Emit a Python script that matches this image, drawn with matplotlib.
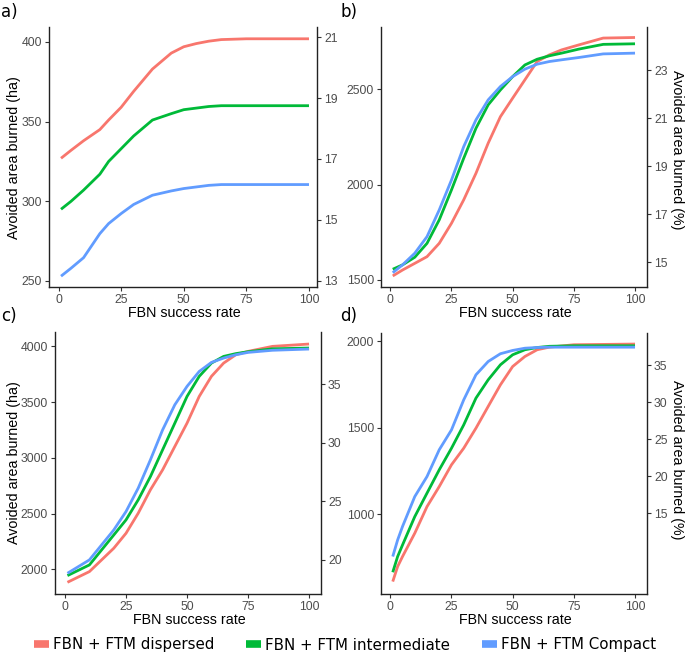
import matplotlib
matplotlib.use("Agg")
import matplotlib.pyplot as plt
from matplotlib.lines import Line2D

plt.rcParams['font.family'] = ['Liberation Sans', 'DejaVu Sans']

series_names = ["FBN + FTM dispersed", "FBN + FTM intermediate", "FBN + FTM Compact"]
colors = ["#F8766D", "#00BA38", "#619CFF"]

# panel a
xa = [1, 5, 10, 16.5, 20, 25, 30, 37.5, 45, 50, 55, 60, 65, 75, 100]
a_disp = [327, 332, 338, 345, 351, 359, 369, 383, 393, 397, 399, 400.5, 401.5, 402, 402]
a_inter = [295, 300, 307, 317, 325, 333, 341, 351, 355, 357.5, 358.5, 359.5, 360, 360, 360]
a_comp = [253, 258, 264.6, 279.7, 286, 292.3, 298, 303.8, 306.5, 308, 309, 310, 310.5, 310.5, 310.5]

# panel b
xb = [1, 5, 10, 15, 20, 25, 30, 35, 40, 45, 50, 55, 60, 65, 70, 77, 87, 100]
b_disp = [1521, 1552, 1587, 1622, 1692, 1797, 1920, 2059, 2217, 2356, 2453, 2549, 2645, 2680, 2706, 2732, 2768, 2771]
b_inter = [1556, 1579, 1619, 1692, 1815, 1972, 2138, 2295, 2418, 2496, 2566, 2627, 2657, 2675, 2689, 2710, 2735, 2738]
b_comp = [1538, 1579, 1640, 1727, 1867, 2024, 2199, 2339, 2444, 2514, 2566, 2605, 2631, 2645, 2654, 2666, 2685, 2689]

# panel c
xc = [1, 10, 20, 25, 30, 35, 40, 45, 50, 55, 60, 65, 70, 75, 85, 100]
c_disp = [1883, 1979, 2189, 2323, 2503, 2713, 2892, 3102, 3311, 3551, 3731, 3850, 3925, 3955, 4000, 4021]
c_inter = [1943, 2039, 2308, 2443, 2623, 2832, 3072, 3311, 3551, 3731, 3850, 3910, 3935, 3952, 3978, 3985]
c_comp = [1964, 2084, 2353, 2518, 2728, 2982, 3251, 3476, 3641, 3775, 3856, 3895, 3925, 3946, 3965, 3976]

# panel d
xd = [1, 3, 5, 10, 15, 20, 25, 30, 35, 40, 45, 50, 55, 60, 65, 75, 100]
d_disp = [610, 697, 755, 890, 1044, 1160, 1286, 1382, 1498, 1624, 1749, 1855, 1913, 1952, 1967, 1981, 1985]
d_inter = [664, 755, 822, 986, 1122, 1257, 1382, 1517, 1672, 1778, 1865, 1923, 1952, 1965, 1972, 1975, 1975]
d_comp = [755, 851, 929, 1102, 1218, 1373, 1488, 1662, 1807, 1884, 1929, 1948, 1961, 1965, 1967, 1967, 1967]

x_ticks = [0, 25, 50, 75, 100]
ha_ticks = {"a": [250, 300, 350, 400], "b": [1500, 2000, 2500],
            "c": [2000, 2500, 3000, 3500, 4000], "d": [1000, 1500, 2000]}
pct_ticks = {"a": [13, 15, 17, 19, 21], "b": [15, 17, 19, 21, 23],
             "c": [20, 25, 30, 35], "d": [15, 20, 25, 30, 35]}
# two reference points (ha, %) that tie the secondary axis to the primary one
pct_ref = {"a": ((250, 13), (403.1, 21)), "b": ((1593, 15), (2598, 23)),
           "c": ((2084, 20), (3662, 35)), "d": ((1006, 15), (1861, 35))}

W, H = 685, 654
fig = plt.figure(figsize=(W / 100, H / 100), dpi=100)


def rect(l, t, r, b):
    return [l / W, 1 - b / H, (r - l) / W, (b - t) / H]


panels = {
    "a": dict(rect=rect(49, 27, 317, 287), x=xa, ys=[a_disp, a_inter, a_comp],
              xlim=(-3.8, 103.2), ylim=(246.2, 409.4)),
    "b": dict(rect=rect(381, 27, 647, 287), x=xb, ys=[b_disp, b_inter, b_comp],
              xlim=(-3.8, 104.9), ylim=(1463, 2826)),
    "c": dict(rect=rect(55, 332, 321, 594), x=xc, ys=[c_disp, c_inter, c_comp],
              xlim=(-4.1, 104.9), ylim=(1778, 4129)),
    "d": dict(rect=rect(381, 333, 647, 594), x=xd, ys=[d_disp, d_inter, d_comp],
              xlim=(-3.8, 104.9), ylim=(538, 2049)),
}

tick_col = "#4D4D4D"
for key, p in panels.items():
    ax = fig.add_axes(p["rect"])
    for y, c in zip(p["ys"], colors):
        ax.plot(p["x"], y, color=c, lw=2.0, solid_capstyle="butt")
    ax.set_xlim(*p["xlim"])
    ax.set_ylim(*p["ylim"])
    ax.set_xticks(x_ticks)
    ax.set_yticks(ha_ticks[key])
    ax.spines["top"].set_visible(False)
    ax.spines["right"].set_visible(False)
    for s in ["left", "bottom"]:
        ax.spines[s].set_linewidth(1.0)
        ax.spines[s].set_color("#222222")
    ax.tick_params(length=3, width=0.8, color="#333333", labelcolor=tick_col,
                   labelsize=8.8, pad=2)

    (h1, p1), (h2, p2) = pct_ref[key]
    k = (p2 - p1) / (h2 - h1)
    ax2 = ax.twinx()
    ax2.set_ylim(p1 + (p["ylim"][0] - h1) * k, p1 + (p["ylim"][1] - h1) * k)
    ax2.set_yticks(pct_ticks[key])
    for s in ["top", "left", "bottom"]:
        ax2.spines[s].set_visible(False)
    ax2.spines["right"].set_linewidth(1.0)
    ax2.spines["right"].set_color("#222222")
    ax2.tick_params(length=3, width=0.8, color="#333333", labelcolor=tick_col,
                    labelsize=8.8, pad=2)

    l, b, w, h = p["rect"]
    fig.text(l + w / 2 + 1 / W, b - 26 / H, "FBN success rate", ha="center", va="center",
             fontsize=10.3)

# panel letters
for lab, px, py in [("a)", 1, 12), ("b)", 340, 12), ("c)", 1, 316), ("d)", 340, 316)]:
    fig.text(px / W, 1 - py / H, lab, fontsize=12, va="center", ha="left",
             family="DejaVu Sans")

# axis titles
fig.text(14 / W, 1 - 158 / H, "Avoided area burned (ha)", rotation=90, ha="center",
         va="center", fontsize=10.3)
fig.text(14 / W, 1 - 463 / H, "Avoided area burned (ha)", rotation=90, ha="center",
         va="center", fontsize=10.3)
fig.text(677 / W, 1 - 150 / H, "Avoided area burned (%)", rotation=270, ha="center",
         va="center", fontsize=10.3)
fig.text(677 / W, 1 - 460 / H, "Avoided area burned (%)", rotation=270, ha="center",
         va="center", fontsize=10.3)

handles = [Line2D([], [], color=c, lw=5.5, solid_capstyle="butt") for c in colors]
fig.legend(handles, series_names, loc="center", bbox_to_anchor=(345 / W, 1 - 645 / H),
           ncol=3, frameon=False, prop={"family": "DejaVu Sans", "size": 10.8},
           handlelength=1.0, handletextpad=0.3, columnspacing=2.1, borderaxespad=0)

fig.savefig("out.png", dpi=100)
